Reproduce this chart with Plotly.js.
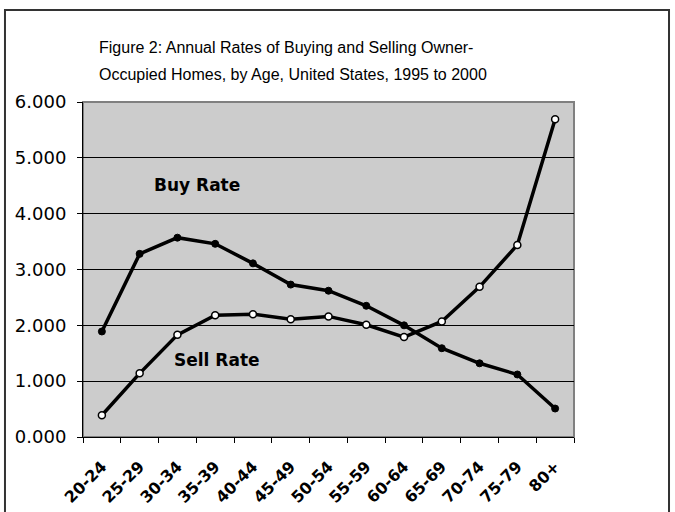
<!DOCTYPE html>
<html>
<head>
<meta charset="utf-8">
<script src="https://cdn.plot.ly/plotly-3.0.1.min.js"></script>
<style>html,body{margin:0;padding:0;background:#fff;}#chart{width:675px;height:512px;}</style>
</head>
<body>
<div id="chart"></div>
<script>
const ages = ['20-24','25-29','30-34','35-39','40-44','45-49','50-54','55-59','60-64','65-69','70-74','75-79','80+'];
const buyRate = [1.89, 3.28, 3.57, 3.46, 3.11, 2.73, 2.62, 2.35, 2.00, 1.59, 1.32, 1.12, 0.51];
const sellRate = [0.39, 1.14, 1.83, 2.18, 2.20, 2.11, 2.16, 2.01, 1.79, 2.07, 2.69, 3.44, 5.69];
const titleLines = ['Figure 2: Annual Rates of Buying and Selling Owner-', 'Occupied Homes, by Age, United States, 1995 to 2000'];
const seriesLabels = ['Buy Rate', 'Sell Rate'];

const traces = [
  {
    x: ages, y: buyRate, type: 'scatter', mode: 'lines+markers', name: seriesLabels[0],
    line: {color: '#000', width: 3.5},
    marker: {color: '#000', size: 7, line: {color: '#000', width: 1}}
  },
  {
    x: ages, y: sellRate, type: 'scatter', mode: 'lines+markers', name: seriesLabels[1],
    line: {color: '#000', width: 3.5},
    marker: {color: '#fff', size: 7, line: {color: '#000', width: 1.5}}
  }
];

const titleFont = {family: '"Liberation Sans", Arial', size: 16, color: '#000'};

const layout = {
  width: 675, height: 512,
  margin: {l: 83, r: 101, t: 102, b: 75},
  paper_bgcolor: '#fff',
  plot_bgcolor: '#cccccc',
  showlegend: false,
  xaxis: {
    type: 'category',
    range: [-0.5, 12.5],
    showgrid: false,
    showline: true, linecolor: '#000', linewidth: 1,
    ticks: 'outside', tickson: 'boundaries', ticklen: 5, tickcolor: '#000',
    tickangle: -45,
    ticklabelstandoff: 13,
    tickfont: {family: 'DejaVu Sans', size: 16, color: '#000', weight: 'bold'},
    fixedrange: true
  },
  yaxis: {
    range: [0, 6],
    dtick: 1,
    tickformat: '.3f',
    showgrid: true, gridcolor: '#000', gridwidth: 1,
    zeroline: false,
    showline: true, linecolor: '#000', linewidth: 1,
    ticks: 'outside', ticklen: 5, tickcolor: '#000',
    ticklabelstandoff: 7,
    tickfont: {family: 'DejaVu Sans', size: 18, color: '#000'},
    fixedrange: true
  },
  shapes: [
    {type: 'rect', xref: 'paper', yref: 'paper', x0: 0, x1: 1, y0: 0, y1: 1,
     line: {color: '#808080', width: 2}, layer: 'below'},
    {type: 'rect', xref: 'paper', yref: 'paper', x0: -0.1589, x1: 1.1935, y0: -0.25, y1: 1.2746,
     line: {color: '#333', width: 2}}
  ],
  annotations: [
    {text: titleLines[0], xref: 'paper', yref: 'paper', x: 0.0285, y: 1.164, xanchor: 'left', yanchor: 'middle',
     showarrow: false, font: titleFont},
    {text: titleLines[1], xref: 'paper', yref: 'paper', x: 0.0285, y: 1.0806, xanchor: 'left', yanchor: 'middle',
     showarrow: false, font: titleFont},
    {text: '<b>' + seriesLabels[0] + '</b>', xref: 'x', yref: 'y', x: 2.52, y: 4.52, xanchor: 'center', yanchor: 'middle',
     showarrow: false, font: {family: 'DejaVu Sans', size: 17, color: '#000'}},
    {text: '<b>' + seriesLabels[1] + '</b>', xref: 'x', yref: 'y', x: 3.06, y: 1.38, xanchor: 'center', yanchor: 'middle',
     showarrow: false, font: {family: 'DejaVu Sans', size: 17, color: '#000'}}
  ]
};

Plotly.newPlot('chart', traces, layout, {displayModeBar: false, staticPlot: true});
</script>
</body>
</html>
